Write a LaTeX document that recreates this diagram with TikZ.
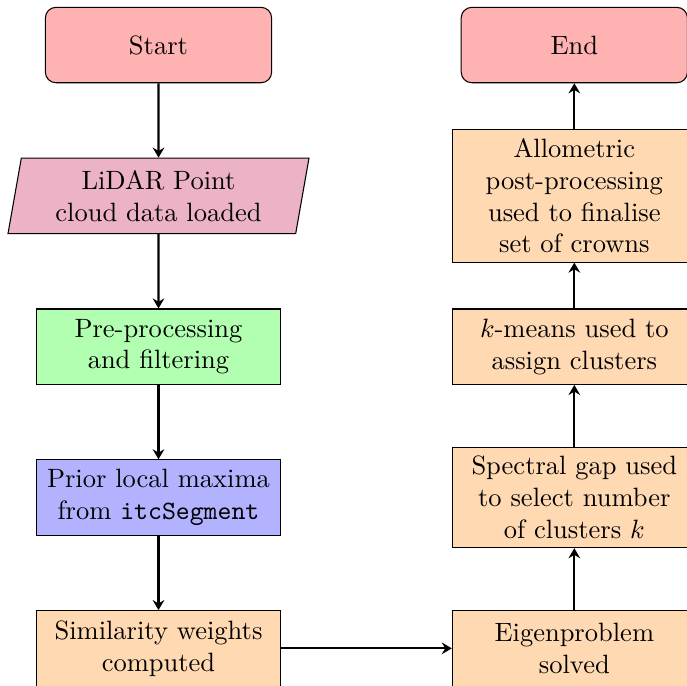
\documentclass[tikz,border=0pt]{standalone}
\usepackage{tikz}
\usetikzlibrary{positioning, shapes.geometric, arrows.meta, calc}

\begin{document}
\begin{tikzpicture}[
    >={Stealth[length=3.8pt, width=4.4pt, inset=1.3pt]},
    % Styles
    startstop/.style={
        rectangle,
        rounded corners,
        minimum width=3cm,
        minimum height=1cm,
        text centered,
        draw=black,
        fill=red!30
    },
    io/.style={
        trapezium,
        trapezium left angle=80,
        trapezium right angle=100,
        minimum width=3cm,
        minimum height=1cm,
        text width=3cm,
        inner xsep=4.5pt,
        text centered,
        draw=black,
        fill=purple!30
    },
    process/.style={
        rectangle,
        minimum width=3cm,
        minimum height=1cm,
        text width=3cm,
        text centered,
        draw=black,
        fill=orange!30
    },
    arrow/.style={
        ->,
        thick
    }
]
    \useasboundingbox (-59.8pt,17pt) rectangle (199.4pt,-241.5pt);

    % Left column
    \node[startstop] (start) at (0,0) {Start};
    \node[io, below=2cm of start.center, anchor=center] (lidar) {LiDAR Point cloud data loaded};
    \node[process, fill=green!30, below=2cm of lidar.center, anchor=center] (preproc) {Pre-processing and filtering};
    \node[process, fill=blue!30, below=2cm of preproc.center, anchor=center] (prior) {Prior local maxima from \texttt{itcSegment}};
    \node[process, below=2cm of prior.center, anchor=center] (simil) {Similarity weights computed};

    % Right column
    \node[startstop, right=2.5cm of start] (stop) {End};
    \node[process] (allom) at (lidar -| stop) {Allometric post-processing used to finalise set of crowns};
    \node[process] (kmeans) at (preproc -| stop) {$k$-means used to assign clusters};
    \node[process] (spectral) at (prior -| stop) {Spectral gap used to select number of clusters $k$};
    \node[process] (eigen) at (simil -| stop) {Eigenproblem solved};

    % Arrows
    \draw[arrow] (start) -- (lidar);
    \draw[arrow] (lidar) -- (preproc);
    \draw[arrow] (preproc) -- (prior);
    \draw[arrow] (prior) -- (simil);
    \draw[arrow] (simil) -- (eigen);
    \draw[arrow] (eigen) -- (spectral);
    \draw[arrow] (spectral) -- (kmeans);
    \draw[arrow] (kmeans) -- (allom);
    \draw[arrow] (allom) -- (stop);
\end{tikzpicture}
\end{document}
